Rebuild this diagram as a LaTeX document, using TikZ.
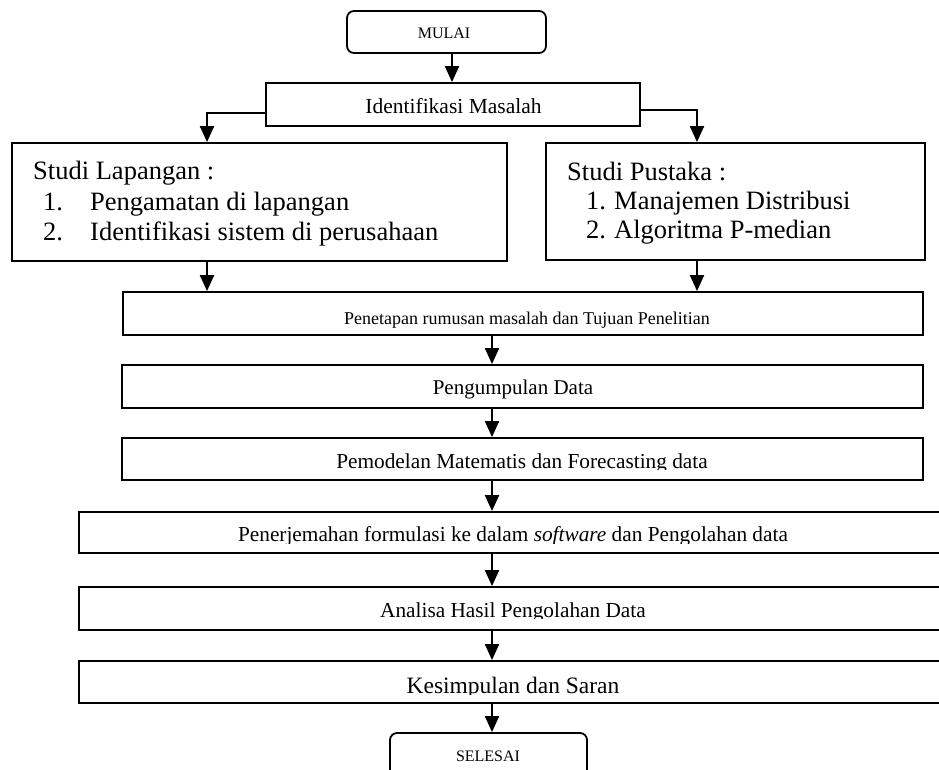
\documentclass[tikz,border=0pt]{standalone}
\usepackage{fontspec}
\setmainfont{Liberation Serif}
\usetikzlibrary{arrows.meta}
\newcommand\myfs[1]{\fontsize{#1pt}{#1pt}\selectfont}
\begin{document}
\begin{tikzpicture}[x=1pt,y=-1pt,
  box/.style={draw, line width=1.8pt, inner sep=0pt},
  term/.style={box, rounded corners=7pt},
  arr/.style={line width=2pt, -{Triangle[length=16pt,width=14pt]}},
  txt/.style={inner sep=0pt, anchor=base},
  txtl/.style={inner sep=0pt, anchor=base west}]
\clip (0,0) rectangle (939,769);
\fill[white] (0,0) rectangle (939,769);
% boxes
\node[term, minimum width=199pt, minimum height=42pt] (mulai) at (446.5,32) {};
\node[box, minimum width=374pt, minimum height=43pt] (ident) at (453,104.5) {};
\node[box, minimum width=495pt, minimum height=118pt] (slap) at (259.5,202) {};
\node[box, minimum width=379pt, minimum height=117pt] (spus) at (735.5,201.5) {};
\node[box, minimum width=800pt, minimum height=43pt] (penet) at (523,313.5) {};
\node[box, minimum width=801pt, minimum height=43pt] (pengum) at (522.5,386.5) {};
\node[box, minimum width=801pt, minimum height=42pt] (pemod) at (522.5,459) {};
\node[box, minimum width=881pt, minimum height=41pt] (pener) at (519.5,532.5) {};
\node[box, minimum width=881pt, minimum height=43pt] (anal) at (519.5,608.5) {};
\node[box, minimum width=881pt, minimum height=42pt] (kesim) at (519.5,682) {};
\node[term, minimum width=197pt, minimum height=67pt] (seles) at (488.5,766.5) {};
% texts
\node[txt] (tmulai) at (444,38) {\myfs{16}MULAI};
\node[txt] (tident) at (453.5,113) {\myfs{21.5}Identifikasi Masalah};
\node[txtl] (sl0) at (33,179) {\myfs{26.5}Studi Lapangan :};
\node[txtl] (sl1n) at (43,210) {\myfs{26.5}1.};
\node[txtl] (sl1) at (90,210) {\myfs{26.5}Pengamatan di lapangan};
\node[txtl] (sl2n) at (43,240) {\myfs{26.5}2.};
\node[txtl] (sl2) at (90,240) {\myfs{26.5}Identifikasi sistem di perusahaan};
\node[txtl] (sp0) at (567,180) {\myfs{26.5}Studi Pustaka :};
\node[txtl] (sp1n) at (586,209) {\myfs{26.5}1.};
\node[txtl] (sp1) at (614,209) {\myfs{26.5}Manajemen Distribusi};
\node[txtl] (sp2n) at (586,238) {\myfs{26.5}2.};
\node[txtl] (sp2) at (614,238) {\myfs{26.5}Algoritma P-median};
\node[txt] (tpenet) at (527,324) {\myfs{18}Penetapan rumusan masalah dan Tujuan Penelitian};
\node[txt] (tpengum) at (513,394) {\myfs{21}Pengumpulan Data};
\begin{scope}
\clip (100,438) rectangle (939,469.5);
\node[txt] (tpemod) at (522,468) {\myfs{21.3}Pemodelan Matematis dan Forecasting data};
\end{scope}
\begin{scope}
\clip (60,512) rectangle (939,543);
\node[txt] (tpener) at (513,541.5) {\myfs{21.3}Penerjemahan formulasi ke dalam \textit{software} dan Pengolahan data};
\end{scope}
\begin{scope}
\clip (60,587) rectangle (939,618);
\node[txt] (tanal) at (513,617) {\myfs{21.3}Analisa Hasil Pengolahan Data};
\end{scope}
\begin{scope}
\clip (60,661) rectangle (939,694);
\node[txt] (tkesim) at (513,693) {\myfs{23.5}Kesimpulan dan Saran};
\end{scope}
\node[txt] (tseles) at (488,761) {\myfs{16}SELESAI};
% helper coordinates
\coordinate (xm) at (452,0);
\coordinate (xl) at (207,0);
\coordinate (xr) at (697,0);
\coordinate (xc) at (492,0);
\coordinate (yl) at (0,113);
\coordinate (yr) at (0,110);
% connectors
\draw[arr] (mulai.south -| xm) -- (ident.north -| xm);
\draw[arr] (ident.west |- yl) -| (slap.north -| xl);
\draw[arr] (ident.east |- yr) -| (spus.north -| xr);
\draw[arr] (slap.south -| xl) -- (penet.north -| xl);
\draw[arr] (spus.south -| xr) -- (penet.north -| xr);
\draw[arr] (penet.south -| xc) -- (pengum.north -| xc);
\draw[arr] (pengum.south -| xc) -- (pemod.north -| xc);
\draw[arr] (pemod.south -| xc) -- (pener.north -| xc);
\draw[arr] (pener.south -| xc) -- (anal.north -| xc);
\draw[arr] (anal.south -| xc) -- (kesim.north -| xc);
\draw[arr] (kesim.south -| xc) -- (seles.north -| xc);
\end{tikzpicture}
\end{document}
